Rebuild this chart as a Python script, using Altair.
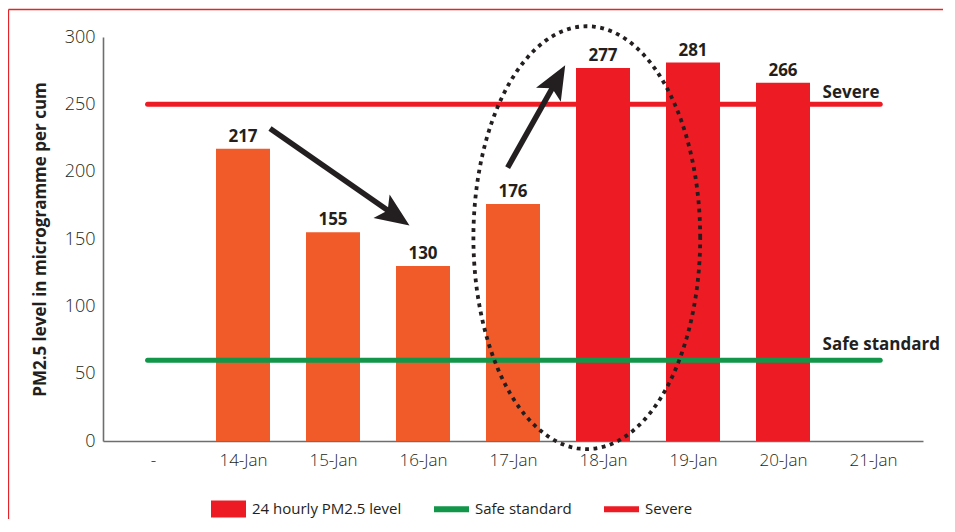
import altair as alt
import numpy as np
import pandas as pd
import json

# ---------------- data ----------------
dates = ["-", "14-Jan", "15-Jan", "16-Jan", "17-Jan", "18-Jan", "19-Jan", "20-Jan", "21-Jan"]
pm25 = [None, 217, 155, 130, 176, 277, 281, 266, None]

ref_names = ["Severe", "Safe standard"]
ref_levels = [250, 60]

legend_labels = ["24 hourly PM2.5 level", "Safe standard", "Severe"]

# annotation arrows (day index, PM2.5 value)
arrow_start_x = [1.30, 3.94]
arrow_start_y = [232, 203]
arrow_tip_x = [2.85, 4.58]
arrow_tip_y = [160, 279]

# dotted ellipse around 17-Jan .. 19-Jan (day index, value)
ellipse_center = (4.82, 151)
ellipse_radius = (1.26, 157)

# ---------------- style ----------------
RED = "#ED1C24"
ORANGE = "#F15A29"
GREEN = "#12974A"
INK = "#231F20"
AXIS = "#6D6E71"
FRAME = "#E2242B"
FONT = "Open Sans"

W, H = 820, 404
N = len(dates)
PX_X = W / N
PX_Y = H / 300.0

YS = alt.Scale(domain=[0, 300], nice=False, zero=False)
XQ = alt.Scale(domain=[-0.5, N - 0.5], nice=False, zero=False)
CS = alt.Scale(domain=legend_labels, range=[RED, GREEN, RED])
SS = alt.Scale(
    domain=legend_labels,
    range=[
        "M-1,-0.49H1V0.49H-1Z",
        "M-1,-0.17H1V0.17H-1Z",
        "M-1,-0.17H1V0.17H-1Z",
    ],
)

# ---------------- bars ----------------
bar_df = pd.DataFrame({"idx": list(range(N)), "date": dates, "pm25": pm25})
label_expr = "%s[round(datum.value)]" % json.dumps(dates)

base_bar = alt.Chart(bar_df).transform_filter("isValid(datum.pm25)")
bars = base_bar.mark_bar(width=54).encode(
    x=alt.X(
        "idx:Q",
        scale=XQ,
        axis=alt.Axis(
            title=None,
            tickCount=N,
            labelExpr=label_expr,
            labelAngle=0,
            ticks=False,
            grid=False,
            labelPadding=11,
            labelFontSize=17,
            labelFont=FONT,
            labelFontWeight=300,
            labelColor=INK,
            labelFlush=False,
            labelOverlap=False,
            domainColor=AXIS,
            domainWidth=1.6,
        ),
    ),
    y=alt.Y(
        "pm25:Q",
        scale=YS,
        axis=alt.Axis(
            title="PM2.5 level in microgramme per cum",
            tickCount=6,
            ticks=False,
            grid=False,
            labelPadding=8,
            labelFontSize=18,
            labelFont=FONT,
            labelFontWeight=300,
            labelColor=INK,
            domainColor=AXIS,
            domainWidth=1.6,
            titleFont=FONT,
            titleFontSize=17,
            titleFontWeight="bold",
            titleColor=INK,
            titlePadding=15,
        ),
    ),
    color=alt.condition(f"datum.pm25 > {ref_levels[0]}", alt.value(RED), alt.value(ORANGE)),
)
bar_text = base_bar.mark_text(
    font=FONT, fontSize=17, fontWeight="bold", color=INK, baseline="alphabetic", dy=-7
).encode(
    x=alt.X("idx:Q", scale=XQ),
    y=alt.Y("pm25:Q", scale=YS),
    text="pm25:Q",
)

# ---------------- reference lines ----------------
ref_df = pd.DataFrame({"series": ref_names, "level": ref_levels})
rules = alt.Chart(ref_df).mark_rule(strokeWidth=5, strokeCap="round").encode(
    x=alt.X(datum=-0.06, scale=XQ),
    x2=alt.X2(datum=8.08),
    y=alt.Y("level:Q", scale=YS),
    color=alt.condition(f"datum.series == '{ref_names[0]}'", alt.value(RED), alt.value(GREEN)),
)
sev_text = (
    alt.Chart(ref_df)
    .transform_filter(f"datum.series == '{ref_names[0]}'")
    .mark_text(font=FONT, fontSize=17, fontWeight="bold", color=INK, align="left", baseline="alphabetic", dy=-6)
    .encode(x=alt.X(datum=7.44, scale=XQ), y=alt.Y("level:Q", scale=YS), text="series:N")
)
safe_text = (
    alt.Chart(ref_df)
    .transform_filter(f"datum.series == '{ref_names[1]}'")
    .mark_text(font=FONT, fontSize=17, fontWeight="bold", color=INK, align="left", baseline="alphabetic", dy=-10)
    .encode(x=alt.X(datum=7.44, scale=XQ), y=alt.Y("level:Q", scale=YS), text="series:N")
)

# ---------------- arrows ----------------
sx = np.array(arrow_start_x, float)
sy = np.array(arrow_start_y, float)
tx = np.array(arrow_tip_x, float)
ty = np.array(arrow_tip_y, float)
dxp = (tx - sx) * PX_X
dyp = -(ty - sy) * PX_Y  # screen y grows downward
length = np.hypot(dxp, dyp)
ux, uy = dxp / length, dyp / length
back = 18.0
ex = tx - back * ux / PX_X
ey = ty + back * uy / PX_Y
angle = np.degrees(np.arctan2(ux, -uy)) % 360
arrow_df = pd.DataFrame({"sx": sx, "sy": sy, "ex": ex, "ey": ey, "tx": tx, "ty": ty, "angle": angle})
shafts = alt.Chart(arrow_df).mark_rule(strokeWidth=5.5, color=INK).encode(
    x=alt.X("sx:Q", scale=XQ),
    y=alt.Y("sy:Q", scale=YS),
    x2="ex:Q",
    y2="ey:Q",
)
heads = alt.Chart(arrow_df).mark_point(
    shape="M0,0L0.42,1L0,0.78L-0.42,1Z", filled=True, size=4600, color=INK, opacity=1, strokeWidth=0
).encode(
    x=alt.X("tx:Q", scale=XQ),
    y=alt.Y("ty:Q", scale=YS),
    angle=alt.Angle("angle:Q", scale=None),
)

# ---------------- ellipse ----------------
t = np.linspace(0, 2 * np.pi, 240)
ell_df = pd.DataFrame({
    "i": np.arange(len(t)),
    "ex": ellipse_center[0] + ellipse_radius[0] * np.cos(t),
    "ey": ellipse_center[1] + ellipse_radius[1] * np.sin(t),
})
ellipse = alt.Chart(ell_df).mark_line(strokeDash=[3.8, 4.6], strokeWidth=3.8, color=INK).encode(
    x=alt.X("ex:Q", scale=XQ),
    y=alt.Y("ey:Q", scale=YS),
    order="i:Q",
)

# ---------------- legend (invisible points, size 0) ----------------
leg_df = pd.DataFrame({"series": legend_labels, "lx": [0, 0, 0], "ly": [0, 0, 0]})
legend_pts = alt.Chart(leg_df).mark_point(filled=True, opacity=1, size=0, strokeWidth=0).encode(
    x=alt.X("lx:Q", scale=XQ),
    y=alt.Y("ly:Q", scale=YS),
    color=alt.Color(
        "series:N",
        scale=CS,
        legend=alt.Legend(
            title=None,
            orient="none",
            legendX=108,
            legendY=454,
            direction="horizontal",
            symbolSize=1225,
            symbolStrokeWidth=0,
            labelFont=FONT,
            labelFontSize=15,
            labelColor=INK,
            labelOffset=6,
            columnPadding=32,
        ),
    ),
    shape=alt.Shape("series:N", scale=SS, legend=alt.Legend(title=None, orient="none")),
)

# ---------------- outer frame (decoration, kept inside the drawing) ----------------
frame_df = pd.DataFrame({"k": [0]})
frame_top = alt.Chart(frame_df).mark_rule(color=FRAME, strokeWidth=1.3).encode(
    x=alt.value(-94.5), x2=alt.value(W + 20), y=alt.value(-27.5)
)
frame_left = alt.Chart(frame_df).mark_rule(color=FRAME, strokeWidth=1.3).encode(
    x=alt.value(-94.5), y=alt.value(-27.5), y2=alt.value(H + 78)
)

chart = (
    alt.layer(bars, bar_text, rules, sev_text, safe_text, ellipse, shafts, heads, legend_pts, frame_top, frame_left)
    .properties(
        width=W,
        height=H,
        autosize=alt.AutoSizeParams(type="none"),
        padding={"left": 95, "top": 29, "right": 24, "bottom": 80},
        background="white",
    )
    .configure_view(stroke=None)
)

chart.save("out.html", embed_options={"renderer": "svg", "actions": False})
